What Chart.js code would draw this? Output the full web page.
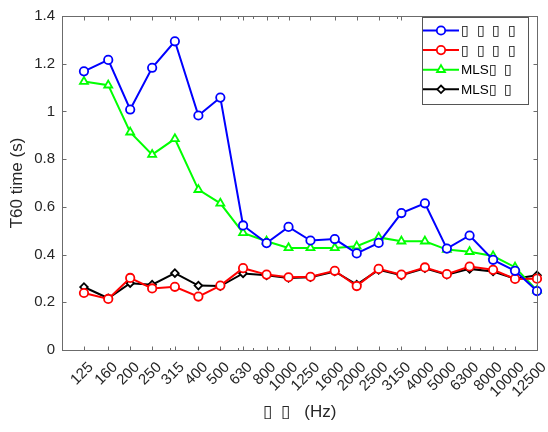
<!DOCTYPE html>
<html>
<head>
<meta charset="utf-8">
<script src="https://cdn.jsdelivr.net/npm/chart.js@4/dist/chart.umd.min.js"></script>
<style>
  body { margin: 0; background: #fff; }
  #wrap { width: 548px; height: 432px; }
</style>
</head>
<body>
<div id="wrap"><canvas id="t60Chart" width="548" height="432"></canvas></div>
<script>
// 1/3 octave centre frequencies (Hz)
var freqs = [125, 160, 200, 250, 315, 400, 500, 630, 800, 1000, 1250,
    1600, 2000, 2500, 3150, 4000, 5000, 6300, 8000, 10000, 12500];

// T60 values (s)
var sweepA = [1.168, 1.216, 1.008, 1.183, 1.294, 0.983, 1.058, 0.522, 0.448, 0.516, 0.459,
    0.465, 0.405, 0.449, 0.574, 0.615, 0.425, 0.480, 0.378, 0.332, 0.247];
var sweepB = [0.239, 0.214, 0.302, 0.258, 0.265, 0.224, 0.270, 0.343, 0.316, 0.305, 0.307,
    0.332, 0.268, 0.340, 0.316, 0.346, 0.318, 0.350, 0.336, 0.298, 0.299];
var mlsA = [1.125, 1.110, 0.913, 0.819, 0.885, 0.672, 0.615, 0.491, 0.456, 0.428, 0.428,
    0.428, 0.435, 0.472, 0.456, 0.456, 0.421, 0.412, 0.394, 0.347, 0.250];
var mlsB = [0.264, 0.217, 0.280, 0.274, 0.322, 0.270, 0.268, 0.321, 0.313, 0.302, 0.305,
    0.329, 0.274, 0.336, 0.313, 0.343, 0.316, 0.340, 0.329, 0.299, 0.313];

var yTicks = [0, 0.2, 0.4, 0.6, 0.8, 1, 1.2, 1.4];
// minor ticks of the log axis (MATLAB style)
var xMinor = [300, 600, 700, 900, 3000, 6000, 7000, 9000];

var seriesLabels = ['\u25AF  \u25AF  \u25AF  \u25AF', '\u25AF  \u25AF  \u25AF  \u25AF', 'MLS\u25AF  \u25AF', 'MLS\u25AF  \u25AF'];
var xTitle = '\u25AF  \u25AF   (Hz)';
var yTitle = 'T60 time (s)';

var axisColor = '#6b6b6b';
var textColor = '#262626';
var fontFamily = '"Liberation Sans", Arial, Helvetica, sans-serif';

function pts(values) {
    return freqs.map(function(f, i) {
        return { x: f, y: values[i] };
    });
}

function makeSet(label, values, color, style, radius) {
    return {
        label: label,
        data: pts(values),
        borderColor: color,
        backgroundColor: color,
        borderWidth: 2,
        pointStyle: style,
        pointRadius: radius,
        pointBorderWidth: 1.8,
        pointBackgroundColor: '#ffffff',
        pointBorderColor: color,
        clip: false
    };
}

// frame, inward ticks, rotated x labels and the boxed legend
var matlabAxes = {
    id: 'matlabAxes',
    afterDatasetsDraw: function(chart) {
        var ctx = chart.ctx;
        var a = chart.chartArea;
        var xs = chart.scales.x;
        var ys = chart.scales.y;
        var l = Math.round(a.left) + 0.5, r = Math.round(a.right) + 0.5;
        var t = Math.round(a.top) + 0.5, b = Math.round(a.bottom) + 0.5;
        ctx.save();
        ctx.strokeStyle = axisColor;
        ctx.lineWidth = 1;
        ctx.strokeRect(l, t, r - l, b - t);
        ctx.beginPath();
        freqs.forEach(function(f) {
            var px = Math.round(xs.getPixelForValue(f)) + 0.5;
            ctx.moveTo(px, b); ctx.lineTo(px, b - 4);
            ctx.moveTo(px, t); ctx.lineTo(px, t + 4);
        });
        xMinor.forEach(function(f) {
            var px = Math.round(xs.getPixelForValue(f)) + 0.5;
            ctx.moveTo(px, b); ctx.lineTo(px, b - 2.5);
            ctx.moveTo(px, t); ctx.lineTo(px, t + 2.5);
        });
        yTicks.forEach(function(v) {
            var py = Math.round(ys.getPixelForValue(v)) + 0.5;
            ctx.moveTo(l, py); ctx.lineTo(l + 4, py);
            ctx.moveTo(r, py); ctx.lineTo(r - 4, py);
        });
        ctx.stroke();

        // x tick labels at 45 degrees
        ctx.fillStyle = textColor;
        ctx.font = '15px ' + fontFamily;
        ctx.textAlign = 'right';
        ctx.textBaseline = 'middle';
        freqs.forEach(function(f) {
            var px = xs.getPixelForValue(f);
            ctx.save();
            ctx.translate(px + 7, a.bottom + 15);
            ctx.rotate(-Math.PI / 4);
            ctx.fillText(String(f), 0, 0);
            ctx.restore();
        });

        // legend
        var bx = 422.5, by = 17.5, bw = 106, bh = 87;
        ctx.fillStyle = '#ffffff';
        ctx.fillRect(bx, by, bw, bh);
        ctx.strokeStyle = '#555555';
        ctx.lineWidth = 1;
        ctx.strokeRect(bx, by, bw, bh);
        ctx.font = '13.5px ' + fontFamily;
        ctx.textBaseline = 'middle';
        ctx.textAlign = 'left';
        chart.data.datasets.forEach(function(ds, i) {
            var cy = 30.5 + i * 19.6;
            ctx.strokeStyle = ds.borderColor;
            ctx.lineWidth = 2;
            ctx.beginPath();
            ctx.moveTo(423, cy); ctx.lineTo(459, cy);
            ctx.stroke();
            ctx.fillStyle = '#ffffff';
            ctx.strokeStyle = ds.borderColor;
            ctx.lineWidth = 1.8;
            Chart.helpers.drawPoint(ctx, {
                pointStyle: ds.pointStyle,
                radius: ds.pointRadius,
                borderWidth: 1.8,
                rotation: 0
            }, 441, cy);
            ctx.fillStyle = '#000000';
            ctx.fillText(ds.label, 461, cy + 1);
        });
        ctx.restore();
    }
};

var ctx = document.getElementById('t60Chart');

var myChart = new Chart(ctx, {
    type: 'line',
    data: {
        datasets: [
            makeSet(seriesLabels[0], sweepA, '#0000ff', 'circle', 4.2),
            makeSet(seriesLabels[1], sweepB, '#ff0000', 'circle', 4.2),
            makeSet(seriesLabels[2], mlsA, '#00ff00', 'triangle', 4.6),
            makeSet(seriesLabels[3], mlsB, '#000000', 'rectRot', 3.8)
        ]
    },
    options: {
        responsive: false,
        animation: false,
        layout: { padding: { top: 10, right: 11, left: 0, bottom: 0 } },
        plugins: {
            legend: { display: false },
            tooltip: { enabled: false }
        },
        scales: {
            x: {
                type: 'logarithmic',
                min: 100,
                max: 12500,
                grid: { display: false, drawTicks: false },
                border: { display: false },
                afterBuildTicks: function(scale) {
                    scale.ticks = freqs.map(function(f) { return { value: f }; });
                },
                afterFit: function(scale) { scale.height = 82; },
                ticks: { display: false },
                title: {
                    display: true,
                    text: xTitle,
                    color: textColor,
                    font: { family: fontFamily, size: 17 },
                    padding: { top: 4, bottom: 9 }
                }
            },
            y: {
                min: 0,
                max: 1.4,
                grid: { display: false, drawTicks: false },
                border: { display: false },
                afterBuildTicks: function(scale) {
                    scale.ticks = yTicks.map(function(v) { return { value: v }; });
                },
                afterFit: function(scale) { scale.width = 62; },
                ticks: {
                    padding: 7,
                    color: textColor,
                    font: { family: fontFamily, size: 15 },
                    callback: function(v) { return String(+v.toFixed(1)); }
                },
                title: {
                    display: true,
                    text: yTitle,
                    color: textColor,
                    font: { family: fontFamily, size: 17 },
                    padding: { top: 7, bottom: 2 }
                }
            }
        }
    },
    plugins: [matlabAxes]
});
</script>
</body>
</html>
